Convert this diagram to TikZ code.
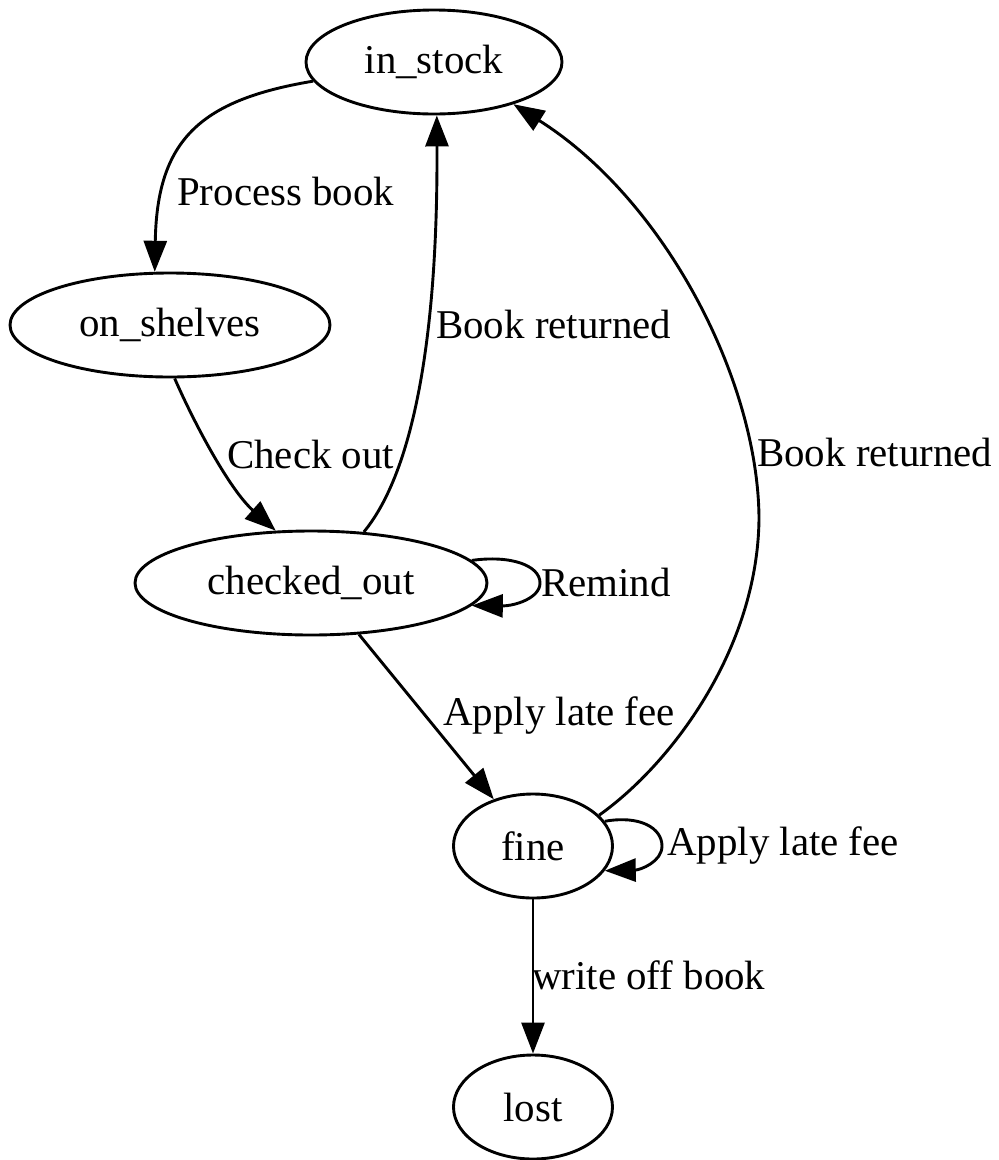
\documentclass[tikz,border=0pt]{standalone}
\usepackage{fontspec}
\setmainfont{Liberation Serif}
\usetikzlibrary{shapes.geometric,arrows.meta}
\begin{document}
\begin{tikzpicture}[x=1pt,y=-1pt,
  state/.style={draw,ellipse,line width=2.9pt,inner sep=0pt,
    minimum height=104pt,font=\fontsize{40.9}{48}\selectfont},
  edge/.style={line width=2.9pt,-{Triangle[length=31pt,width=23pt]}},
  lbl/.style={anchor=west,inner sep=0pt,font=\fontsize{40.9}{48}\selectfont}]
\useasboundingbox (0,0) rectangle (999,1160);

% states
\node[state,minimum width=256pt] (is) at (434,62) {in\_stock};
\node[state,minimum width=320pt] (os) at (170,325) {on\_shelves};
\node[state,minimum width=352pt] (co) at (311,583) {checked\_out};
\node[state,minimum width=159pt] (fi) at (533,846) {fine};
\node[state,minimum width=159pt] (lo) at (533,1107) {lost};

% transitions
\draw[edge] (is.189) .. controls (200,100) and (157,140) .. (os.106);
\node[lbl] (l1) at (177,192) {Process book};

\draw[edge] (os.-85) .. controls (195,425) and (230,490) .. (co.124);
\node[lbl] (l2) at (227,455) {Check out};

\draw[edge] (co.44) .. controls (415,470) and (438,330) .. (is.-87);
\node[lbl] (l3) at (436,325) {Book returned};

\draw[edge] (co.8) .. controls (510,555) and (540,565) .. (540,583)
  .. controls (540,598) and (515,606) .. (co.-8);
\node[lbl] (l4) at (541,583) {Remind};

\draw[edge] (co.-47) -- (fi.130);
\node[lbl] (l5) at (443,716) {Apply late fee};

\draw[edge] (fi.25) .. controls (670,765) and (758,650) .. (759,518)
  .. controls (758,380) and (665,200) .. (is.-28);
\node[lbl] (l6) at (757,453) {Book returned};

\draw[edge] (fi.19) .. controls (640,815) and (662,828) .. (662,846)
  .. controls (662,862) and (640,870) .. (fi.-19);
\node[lbl] (l7) at (667,846) {Apply late fee};

\draw[edge] (fi.south) -- (lo.north);
\node[lbl] (l8) at (532,975) {write off book};
\end{tikzpicture}
\end{document}
